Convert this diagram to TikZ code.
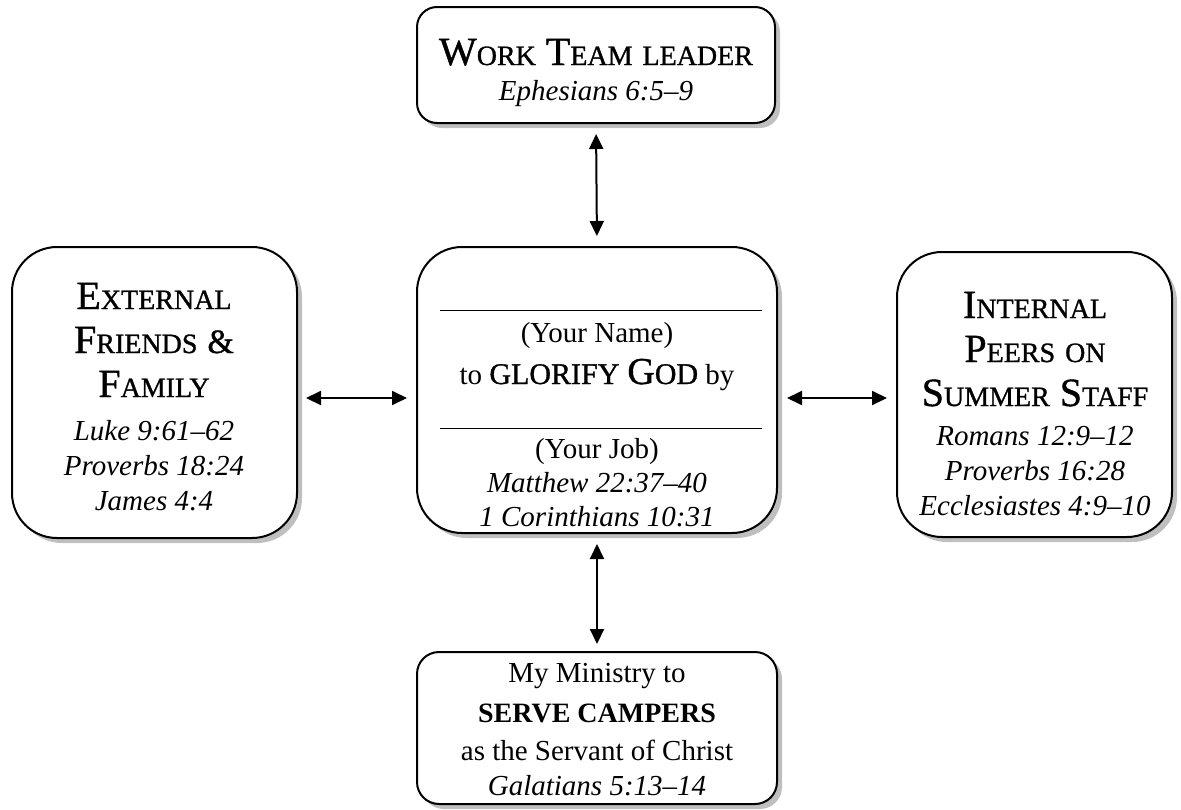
\documentclass[tikz,border=0pt]{standalone}
\usepackage{fontspec}
\setmainfont{Liberation Serif}
\newfontfamily\headfont{Liberation Serif}[FakeBold=1]
\usetikzlibrary{arrows.meta,shadows}
\newcommand\bigC[1]{{\fontsize{40}{40}\selectfont #1}}
\newcommand\smC[1]{{\fontsize{28}{28}\selectfont #1}}
\newcommand\wsp{\hspace{10pt}}
\begin{document}
\begin{tikzpicture}[x=1pt,y=-1pt,
  box/.style={draw=black, line width=2pt, fill=white, rounded corners=#1,
    drop shadow={shadow xshift=5pt, shadow yshift=-5pt, fill=black!25, opacity=1},
    inner sep=0pt},
  box/.default=20pt,
  txt/.style={anchor=base, inner sep=0pt, font=\fontsize{29}{35}\selectfont},
  ref/.style={anchor=base, inner sep=0pt, font=\fontsize{29}{35}\selectfont\itshape},
  head/.style={anchor=base, inner sep=0pt, font=\headfont\fontsize{28}{28}\selectfont},
  arr/.style={{Triangle[length=15pt,width=14pt]}-{Triangle[length=15pt,width=14pt]}, line width=2pt},
  rule/.style={line width=1pt}]
\useasboundingbox (0,0) rectangle (1181,809);
% boxes
\node[box=20pt, minimum width=358pt, minimum height=116pt] (tbox) at (596,65) {};
\node[box=45pt, minimum width=360pt, minimum height=286pt] (cbox) at (597,390) {};
\node[box=45pt, minimum width=285pt, minimum height=291pt] (lbox) at (154.5,392.5) {};
\node[box=45pt, minimum width=275pt, minimum height=285pt] (rbox) at (1034.5,394.5) {};
\node[box=22pt, minimum width=360pt, minimum height=152pt] (bbox) at (597,728) {};
% top text
\node[head] (t1) at (596,65) {\bigC{W}\smC{ORK}\wsp\bigC{T}\smC{EAM}\wsp\smC{LEADER}};
\node[ref] (t2) at (596,100) {Ephesians 6:5--9};
% center text
\draw[rule] (440,310) -- (762,310);
\node[txt] (c1) at (597,342) {(Your Name)};
\node[txt] (c2) at (597,384) {to {\headfont\fontsize{30}{30}\selectfont GLORIFY\hspace{8pt}{\fontsize{38}{38}\selectfont G}OD} by};
\draw[rule] (440,428) -- (762,428);
\node[txt] (c3) at (597,458) {(Your Job)};
\node[ref] (c4) at (597,492) {Matthew 22:37--40};
\node[ref] (c5) at (597,526) {1 Corinthians 10:31};
% left text
\node[head] (l1) at (154,309) {\bigC{E}\smC{XTERNAL}};
\node[head] (l2) at (154,353) {\bigC{F}\smC{RIENDS}\wsp{\fontsize{34}{34}\selectfont\&}};
\node[head] (l3) at (154,397) {\bigC{F}\smC{AMILY}};
\node[ref] (l4) at (154,440) {Luke 9:61--62};
\node[ref] (l5) at (154,475) {Proverbs 18:24};
\node[ref] (l6) at (154,510) {James 4:4};
% right text
\node[head] (r1) at (1035,318) {\bigC{I}\smC{NTERNAL}};
\node[head] (r2) at (1035,362) {\bigC{P}\smC{EERS}\wsp\smC{ON}};
\node[head] (r3) at (1035,406) {\bigC{S}\smC{UMMER}\wsp\bigC{S}\smC{TAFF}};
\node[ref] (r4) at (1035,445) {Romans 12:9--12};
\node[ref] (r5) at (1035,480) {Proverbs 16:28};
\node[ref] (r6) at (1035,515) {Ecclesiastes 4:9--10};
% bottom text
\node[txt] (b1) at (597,682) {My Ministry to};
\node[txt] (b2) at (597,722) {\fontsize{28}{28}\selectfont\bfseries SERVE CAMPERS};
\node[txt] (b3) at (597,760) {as the Servant of Christ};
\node[ref] (b4) at (597,795) {Galatians 5:13--14};
% connectors
\coordinate (hy) at (0,398);
\draw[arr, shorten <=10pt, shorten >=10pt] (tbox.south) -- (cbox.north);
\draw[arr, shorten <=8pt, shorten >=9pt] (lbox.east |- hy) -- (cbox.west |- hy);
\draw[arr, shorten <=9pt, shorten >=9pt] (cbox.east |- hy) -- (rbox.west |- hy);
\draw[arr, shorten <=10pt, shorten >=7pt] (cbox.south) -- (bbox.north);
\end{tikzpicture}
\end{document}
